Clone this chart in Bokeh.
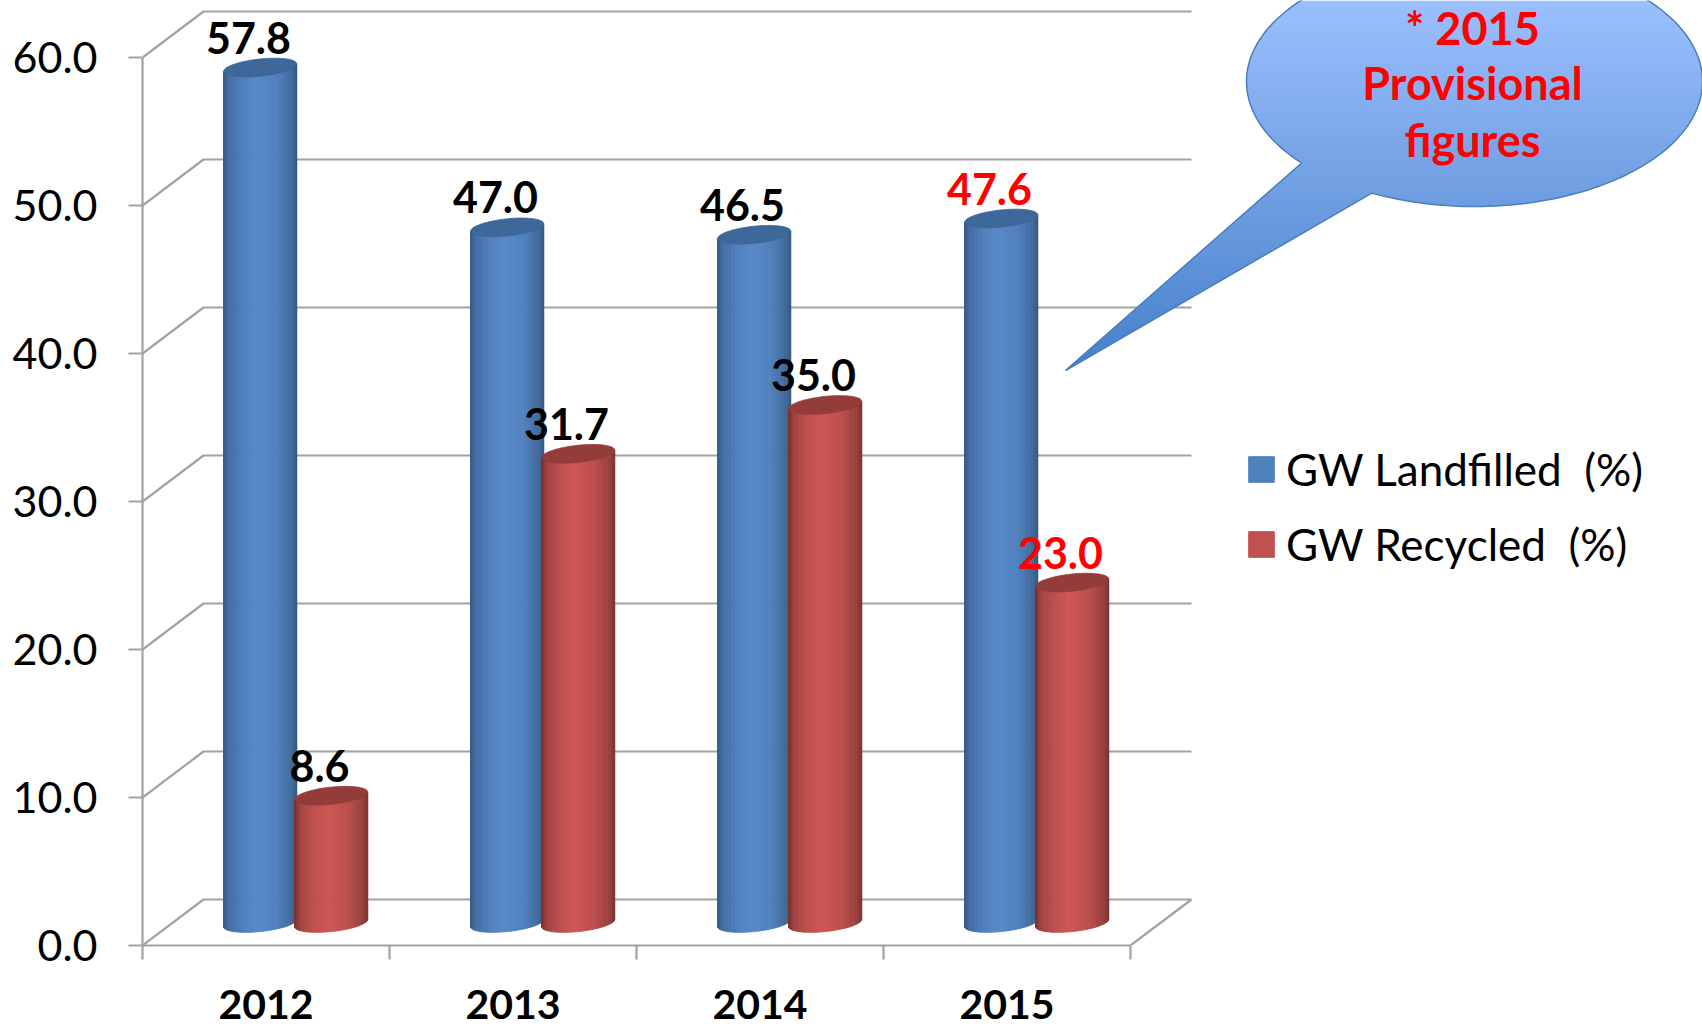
import numpy as np
from bokeh.plotting import figure
from bokeh.models import (ColumnDataSource, FixedTicker, Legend, LegendItem, LinearAxis,
                          NumeralTickFormatter, Range1d)
from bokeh.core.properties import value
from bokeh.embed import file_html
from bokeh.resources import INLINE

years = ["2012", "2013", "2014", "2015"]
landfilled = [57.8, 47.0, 46.5, 47.6]
recycled = [8.6, 31.7, 35.0, 23.0]
y_ticks = [0, 10, 20, 30, 40, 50, 60]
provisional_year = "2015"
series_names = ["GW Landfilled  (%)", "GW Recycled  (%)"]
callout_lines = ["* 2015", "Provisional", "figures"]

FONT = "Lato"
W, H = 1702, 1026
AX_LEFT, AX_BOTTOM = 142, 945          # page pixels of the axes corner
CAT = 247.0                            # px per category
VAL = 14.8                             # px per value unit
DX, DY = 61 / CAT, 46 / VAL            # depth of the pseudo 3D wall
GRID = "#a2a2a2"


def px_x(x):
    return (np.asarray(x, float) - AX_LEFT) / CAT


def px_y(y):
    return (AX_BOTTOM - np.asarray(y, float)) / VAL


p = figure(width=W, height=H, output_backend="svg", toolbar_location=None,
           x_range=Range1d(0, (W - AX_LEFT) / CAT), y_range=Range1d(0, AX_BOTTOM / VAL),
           x_axis_location=None, y_axis_location=None,
           min_border_left=AX_LEFT, min_border_right=0, min_border_top=0,
           min_border_bottom=H - AX_BOTTOM, outline_line_color=None)
p.grid.visible = False

# walls
nc = len(years)
for v in y_ticks:
    p.line([0, DX, nc + DX], [v, v + DY, v + DY], line_color=GRID, line_width=2.2)
p.line([nc, nc + DX], [0, DY], line_color=GRID, line_width=2.2)

# axes
yax = LinearAxis(ticker=FixedTicker(ticks=y_ticks), formatter=NumeralTickFormatter(format="0.0"),
                 bounds=(min(y_ticks), max(y_ticks)), axis_line_color=GRID, axis_line_width=2.2,
                 major_tick_line_color=GRID, major_tick_line_width=2.2, major_tick_out=14, major_tick_in=0,
                 minor_tick_line_color=None, major_label_standoff=31,
                 major_label_text_font=FONT, major_label_text_font_size="43px",
                 major_label_text_color="#000000")
p.add_layout(yax, "left")
centres = [i + 0.5 for i in range(nc)]
xax = LinearAxis(ticker=FixedTicker(ticks=centres, minor_ticks=list(range(nc + 1))),
                 major_label_overrides={c: y for c, y in zip(centres, years)},
                 bounds=(0, nc), axis_line_color=GRID, axis_line_width=2.2,
                 major_tick_line_color=None, major_tick_out=0, major_tick_in=0,
                 minor_tick_line_color=GRID, minor_tick_line_width=2.2, minor_tick_out=14, minor_tick_in=0,
                 major_label_standoff=30, major_label_text_line_height=0.85,
                 major_label_text_font=FONT, major_label_text_font_style="bold",
                 major_label_text_font_size="41px", major_label_text_color="#000000")
p.add_layout(xax, "below")

# cylinders
A = 36.5 / CAT            # half width
B = 8.6 / VAL             # half height of the ellipse
S = 3.7 / VAL             # tilt of the ellipse
OFF = 35.5 / CAT          # distance of a cylinder from the category centre
NUDGE = -0.8 / CAT        # small sideways correction of the cylinders
STOPS = [-1.0, -0.82, -0.45, -0.1, 0.45, 0.8, 1.0]


def shade(rgb_stops, u):
    c = [int(round(np.interp(u, STOPS, [s[k] for s in rgb_stops]))) for k in range(3)]
    return "#%02x%02x%02x" % tuple(c)


BLUE = [(0x35, 0x5a, 0x84), (0x45, 0x70, 0xa6), (0x50, 0x80, 0xbc), (0x57, 0x89, 0xc9),
        (0x50, 0x81, 0xbe), (0x45, 0x6e, 0xa3), (0x37, 0x5b, 0x85)]
RED = [(0x78, 0x30, 0x2f), (0xa5, 0x44, 0x42), (0xbf, 0x50, 0x4d), (0xce, 0x56, 0x53),
       (0xbd, 0x4f, 0x4c), (0xa0, 0x43, 0x41), (0x80, 0x35, 0x33)]
TOPS = ["#3d6899", "#943c3a"]
U = np.sin(np.linspace(-np.pi / 2, np.pi / 2, 41))   # finer strips near the edges
CENTRE_SHIFT = 45 / VAL / 2                          # cylinders stand mid-depth


def low(u, cy):
    return cy + S * u - B * np.sqrt(np.clip(1 - u * u, 0, 1))


sx, sy, sc = [], [], []
for i in range(nc):
    for s, (vals, stops) in enumerate(((landfilled, BLUE), (recycled, RED))):
        cx = i + 0.5 + DX / 2 + NUDGE + (-OFF if s == 0 else OFF)
        top = vals[i] + CENTRE_SHIFT
        base = CENTRE_SHIFT
        for u0, u1 in zip(U[:-1], U[1:]):
            sx.append([cx + A * u0, cx + A * u1, cx + A * u1, cx + A * u0])
            sy.append([low(u0, base), low(u1, base), top + S * u1, top + S * u0])
            sc.append(shade(stops, (u0 + u1) / 2))
        t = np.linspace(0, 2 * np.pi, 80)
        sx.append(list(cx + A * np.cos(t)))
        sy.append(list(top + B * np.sin(t) + S * np.cos(t)))
        sc.append(TOPS[s])

p.patches("xs", "ys", source=ColumnDataSource(dict(xs=sx, ys=sy, c=sc)), fill_color="c", line_color="c",
          line_width=0.8)

# value labels
lx, ly, lt, lc = [], [], [], []
for i, y in enumerate(years):
    colour = "#ff0000" if y == provisional_year else "#000000"
    lx += [i + 0.5 + DX / 2 - OFF, i + 0.5 + DX / 2 + OFF]
    ly += [landfilled[i] + CENTRE_SHIFT, recycled[i] + CENTRE_SHIFT]
    lt += ["%.1f" % landfilled[i], "%.1f" % recycled[i]]
    lc += [colour, colour]
p.text(lx, ly, lt, text_color=lc, x_offset=-12.5, y_offset=-30, text_align="center", text_baseline="middle",
       text_font=value(FONT), text_font_style="bold", text_font_size="43px")

# speech bubble
ELL = (1474, 81, 228, 125)
TAIL = [(1300, 163), (1065, 370), (1370, 194)]
a0 = np.arctan2((TAIL[2][1] - ELL[1]) / ELL[3], (TAIL[2][0] - ELL[0]) / ELL[2])
a1 = np.arctan2((TAIL[0][1] - ELL[1]) / ELL[3], (TAIL[0][0] - ELL[0]) / ELL[2])
if a1 < a0:
    a1 += 2 * np.pi
th = np.linspace(a1, a0 + 2 * np.pi, 180)  # from left junction, over the top, to right junction
poly = [(ELL[0] + ELL[2] * np.cos(q), ELL[1] + ELL[3] * np.sin(q)) for q in th] + [TAIL[1]]


def clip_band(pts, y0, y1):
    def clip(pts, inside, cross):
        out = []
        for k in range(len(pts)):
            a, b = pts[k - 1], pts[k]
            if inside(b):
                if not inside(a):
                    out.append(cross(a, b))
                out.append(b)
            elif inside(a):
                out.append(cross(a, b))
        return out

    def at(yv):
        return lambda a, b: (a[0] + (b[0] - a[0]) * (yv - a[1]) / (b[1] - a[1]), yv)

    pts = clip(pts, lambda q: q[1] >= y0, at(y0))
    if pts:
        pts = clip(pts, lambda q: q[1] <= y1, at(y1))
    return pts


bx, by, bc = [], [], []
for y0 in range(0, 372, 3):
    pts = clip_band(poly, y0, y0 + 3.6)
    if len(pts) < 3:
        continue
    bx.append(list(px_x([q[0] for q in pts])))
    by.append(list(px_y([q[1] for q in pts])))
    m = y0 + 1.5
    c = [np.interp(m, [0, 190, 370], v) for v in ((0x9b, 0x70, 0x45), (0xbf, 0x9f, 0x80), (0xff, 0xe2, 0xcc))]
    bc.append("#%02x%02x%02x" % tuple(int(round(k)) for k in c))
p.patches(bx, by, fill_color=bc, line_color=None)
p.patch(px_x([q[0] for q in poly]), px_y([q[1] for q in poly]), fill_color=None, line_color="#4a7ebb", line_width=1.5)
p.text(px_x([1472] * 3), px_y([27, 82, 139]), callout_lines, text_color="#ff0000", text_align="center",
       text_baseline="middle", text_font=value(FONT), text_font_style="bold", text_font_size="45px")

# legend: the swatches come from one off-range row of each colour
r1 = p.quad(left=[-3], right=[-2], bottom=[-3], top=[-2], fill_color="#4f81bd", line_color="#4f81bd")
r2 = p.quad(left=[-3], right=[-2], bottom=[-3], top=[-2], fill_color="#c0504d", line_color="#c0504d")
legend = Legend(items=[LegendItem(label=series_names[0], renderers=[r1]),
                       LegendItem(label=series_names[1], renderers=[r2])],
                location=(1245 - AX_LEFT, AX_BOTTOM - 570), orientation="vertical",
                glyph_width=32, glyph_height=32, label_standoff=9, spacing=23, margin=0, padding=0,
                label_height=52, label_text_font=FONT, label_text_font_size="44px",
                label_text_color="#000000", background_fill_alpha=0, border_line_color=None)
p.add_layout(legend)

open("out.html", "w").write(file_html(p, INLINE))
